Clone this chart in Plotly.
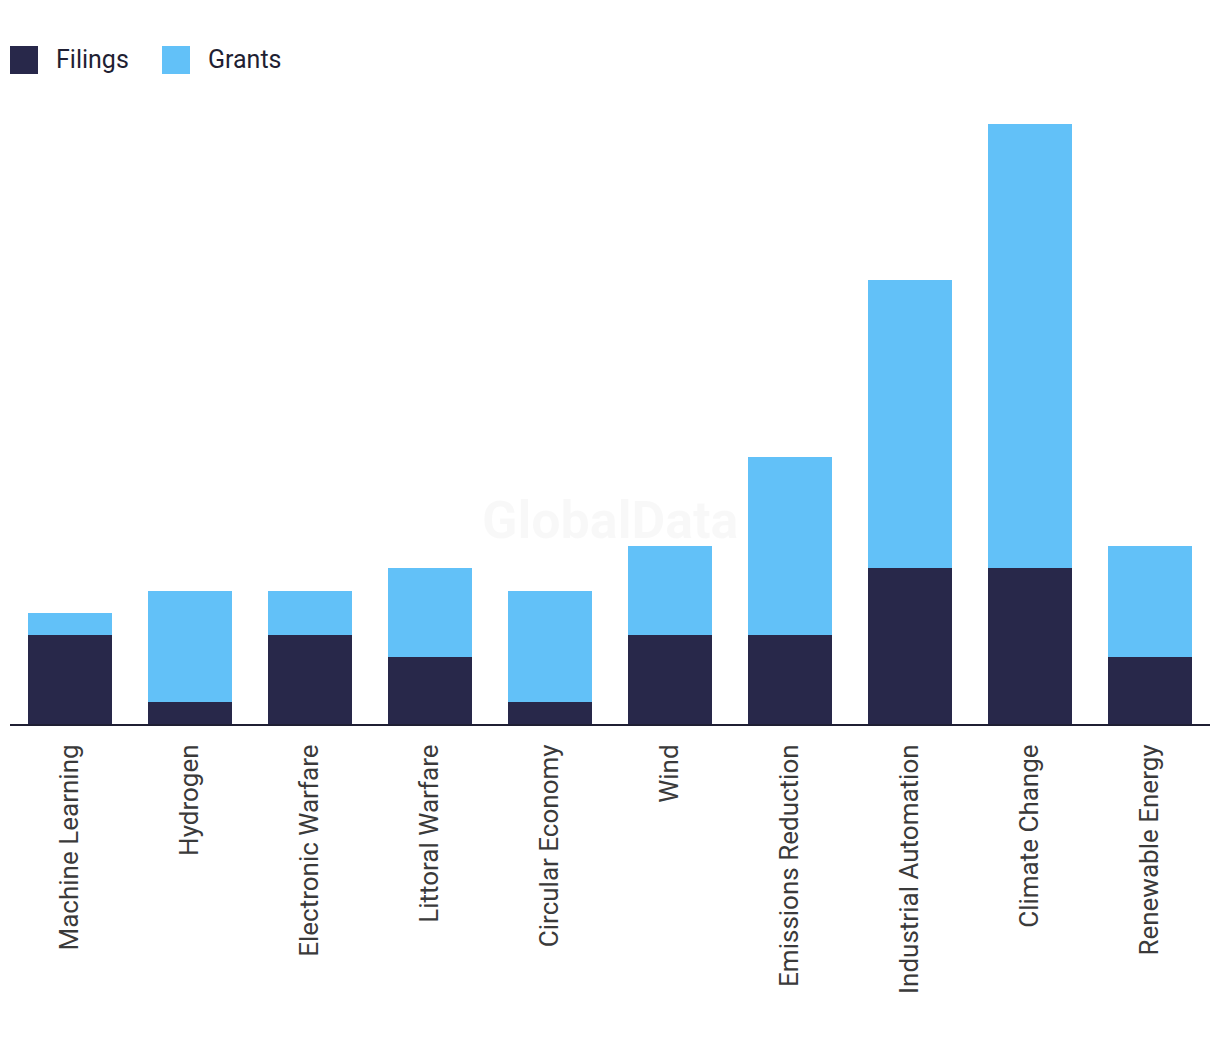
import plotly.graph_objects as go

categories = ["Machine Learning", "Hydrogen", "Electronic Warfare", "Littoral Warfare",
              "Circular Economy", "Wind", "Emissions Reduction", "Industrial Automation",
              "Climate Change", "Renewable Energy"]
filings = [4, 1, 4, 3, 1, 4, 4, 7, 7, 3]
grants = [1, 5, 2, 4, 5, 4, 8, 13, 20, 5]
series_names = ["Filings", "Grants"]

dark = "#28284a"
light = "#62c1f8"
text_dark = "#1f1f33"
font_family = "Roboto, Arial, sans-serif"

# page is offset by body margin (8px); layout in page pixels
W, H = 1212, 1034
ML_, MR_, MT_, MB_ = 2, 10, 92, 318
PW = W - ML_ - MR_
PH = H - MT_ - MB_
OFF = 8


def px_x(page_x):
    return (page_x - OFF - ML_) / PW


def px_y(page_y):
    return (H - MB_ - (page_y - OFF)) / PH


fig = go.Figure()
fig.add_trace(go.Bar(x=categories, y=filings, name=series_names[0], showlegend=False,
                     marker=dict(color=dark, line=dict(width=0))))
fig.add_trace(go.Bar(x=categories, y=grants, name=series_names[1], showlegend=False,
                     marker=dict(color=light, line=dict(width=0))))

# manual legend (large square swatches)
shapes = []
annotations = []
legend_items = [(series_names[0], dark, 10, 54), (series_names[1], light, 162, 206)]
for name, col, sx, tx in legend_items:
    shapes.append(dict(type="rect", xref="paper", yref="paper",
                       x0=px_x(sx), x1=px_x(sx + 28), y0=px_y(74), y1=px_y(46),
                       fillcolor=col, line=dict(width=0), layer="above"))
    annotations.append(dict(text=name, xref="paper", yref="paper", x=px_x(tx), y=px_y(59),
                            xanchor="left", yanchor="middle", showarrow=False,
                            font=dict(size=25, color=text_dark, family=font_family)))

annotations.append(dict(text="<b>GlobalData</b>", x=px_x(610), y=px_y(520),
                        xref="paper", yref="paper", xanchor="center", yanchor="middle",
                        showarrow=False,
                        font=dict(size=52, color="rgba(0,0,0,0.028)", family=font_family)))

fig.update_layout(
    barmode="stack",
    bargap=0.3,
    width=W, height=H,
    margin=dict(l=ML_, r=MR_, t=MT_, b=MB_, autoexpand=False),
    plot_bgcolor="white", paper_bgcolor="white",
    font=dict(family=font_family, color=text_dark, size=20),
    showlegend=False,
    xaxis=dict(showline=True, linecolor="#1f1f33", linewidth=2, ticks="",
               tickangle=-90, ticklabelstandoff=8,
               tickfont=dict(size=26, color="#3a3a3a", family=font_family),
               showgrid=False, zeroline=False),
    yaxis=dict(visible=False, range=[0, 28.08], showgrid=False, zeroline=False),
    shapes=shapes,
    annotations=annotations,
)

fig.write_html("out.html")
